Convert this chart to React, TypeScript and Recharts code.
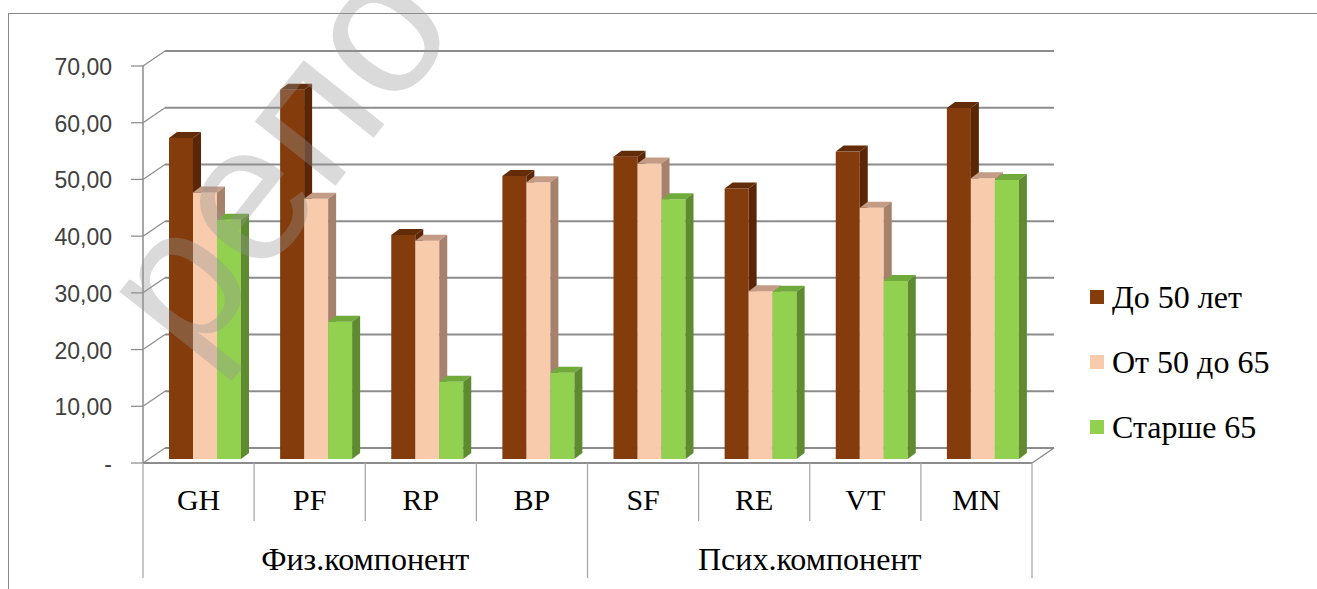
import { BarChart, Bar, XAxis, YAxis, CartesianGrid, Legend } from "recharts";

const categories = ["GH", "PF", "RP", "BP", "SF", "RE", "VT", "MN"];
const groups = [
  "Физ.компонент",
  "Физ.компонент",
  "Физ.компонент",
  "Физ.компонент",
  "Псих.компонент",
  "Псих.компонент",
  "Псих.компонент",
  "Псих.компонент",
];
const under50 = [56.6, 65.1, 39.5, 49.9, 53.3, 47.7, 54.2, 61.9];
const from50to65 = [47.0, 45.9, 38.5, 48.8, 52.1, 29.6, 44.3, 49.5];
const over65 = [42.2, 24.2, 13.6, 15.2, 45.8, 29.5, 31.4, 49.2];
const seriesNames = ["До 50 лет", "От 50 до 65", "Старше 65"];
const yTicks = [0, 10, 20, 30, 40, 50, 60, 70];

const data = categories.map((code, i) => ({
  code,
  a: under50[i],
  b: from50to65[i],
  c: over65[i],
}));

const W = 1317;
const H = 589;
// plot area = the plane the bars stand on
const PLOT_LEFT = 149;
const PLOT_RIGHT = 1038;
const PLOT_TOP = 62;
const PLOT_BOTTOM = 459;
const X_AXIS_H = 30;
const BAND = (PLOT_RIGHT - PLOT_LEFT) / categories.length;

// 3D offsets of the front edge and back wall relative to the bar plane
const FRONT = { dx: -6, dy: 4 };
const BACK = { dx: 16, dy: -11 };
const BAR_DEPTH = { dx: 8, dy: 6 };

const GRID = "#8c8c8c";
const SEP = "#a6a6a6";
const SERIF = "Liberation Serif, DejaVu Serif, Noto Serif, serif";
const SANS = "Liberation Sans, Arial, sans-serif";

const COLORS = [
  { front: "#843C0C", top: "#632c08", side: "#5a2606" },
  { front: "#F8CBAD", top: "#c49c86", side: "#a6826c" },
  { front: "#92D050", top: "#70aa3a", side: "#5e8a30" },
];

function makeBarShape(c: { front: string; top: string; side: string }) {
  return (props: any) => {
    const { x, y, width, height } = props;
    if (!height || height <= 0) return <g />;
    const { dx, dy } = BAR_DEPTH;
    const r = x + width;
    const b = y + height;
    return (
      <g>
        <rect x={x} y={y} width={width} height={height} fill={c.front} />
        <polygon
          points={`${x},${y} ${x + dx},${y - dy} ${r + dx},${y - dy} ${r},${y}`}
          fill={c.top}
        />
        <polygon
          points={`${r},${y} ${r + dx},${y - dy} ${r + dx},${b - dy} ${r},${b}`}
          fill={c.side}
        />
      </g>
    );
  };
}

// each value gridline: outer tick, side-wall diagonal, back-wall line
function gridLine(props: any) {
  const { x1, x2, y1, index } = props;
  const fy = y1 + FRONT.dy;
  const fx1 = x1 + FRONT.dx;
  const fx2 = x2 + FRONT.dx;
  const by = y1 + BACK.dy;
  const bx1 = x1 + BACK.dx;
  const bx2 = x2 + BACK.dx;
  const isFloor = Math.abs(y1 - PLOT_BOTTOM) < 0.5;
  return (
    <g key={`grid-${index}`}>
      <line x1={fx1 - 12} y1={fy} x2={fx1} y2={fy} stroke={GRID} strokeWidth={1.25} />
      <line x1={fx1} y1={fy} x2={bx1} y2={by} stroke={GRID} strokeWidth={1.25} />
      <line x1={bx1} y1={by} x2={bx2} y2={by} stroke={GRID} strokeWidth={2} />
      {isFloor && (
        <g>
          <line x1={fx1} y1={fy} x2={fx2} y2={fy} stroke={GRID} strokeWidth={2} />
          <line x1={fx2} y1={fy} x2={bx2} y2={by} stroke={GRID} strokeWidth={1.5} />
          <line
            x1={fx1}
            y1={fy}
            x2={fx1}
            y2={fy - (PLOT_BOTTOM - PLOT_TOP)}
            stroke={GRID}
            strokeWidth={1.5}
          />
        </g>
      )}
    </g>
  );
}

function ValueTick(props: any) {
  const { y, payload } = props;
  const v = Number(payload.value);
  const label = v === 0 ? "-" : v.toFixed(2).replace(".", ",");
  return (
    <text
      x={112}
      y={y + FRONT.dy + 1}
      dy="0.35em"
      textAnchor="end"
      fontFamily={SANS}
      fontSize={23}
      fill="#404040"
    >
      {label}
    </text>
  );
}

function CategoryTick(props: any) {
  const { x, payload } = props;
  const i: number = props.index ?? payload.index;
  const cx = x + FRONT.dx;
  const floorY = PLOT_BOTTOM + FRONT.dy;
  const left = cx - BAND / 2;
  const right = cx + BAND / 2;
  const startsGroup = i === 0 || groups[i] !== groups[i - 1];
  const isLast = i === categories.length - 1;

  let groupLabel = null;
  if (startsGroup) {
    let n = 0;
    while (groups[i + n] === groups[i]) n++;
    groupLabel = (
      <text
        x={left + (n * BAND) / 2}
        y={floorY + 107}
        textAnchor="middle"
        style={{ fontFamily: SERIF }}
        fontSize={32}
        fill="#000"
      >
        {groups[i]}
      </text>
    );
  }

  return (
    <g>
      <text
        x={cx}
        y={floorY + 47}
        textAnchor="middle"
        style={{ fontFamily: SERIF }}
        fontSize={30}
        fill="#000"
      >
        {payload.value}
      </text>
      <line
        x1={left}
        y1={floorY}
        x2={left}
        y2={floorY + (startsGroup ? 115 : 58)}
        stroke={SEP}
        strokeWidth={1.25}
      />
      {isLast && (
        <line x1={right} y1={floorY} x2={right} y2={floorY + 115} stroke={SEP} strokeWidth={1.25} />
      )}
      {groupLabel}
    </g>
  );
}

function LegendBox(props: any) {
  const items = props.payload || [];
  return (
    <div>
      {items.map((p: any) => (
        <div
          key={p.value}
          style={{ display: "flex", alignItems: "center", height: 65 }}
        >
          <span
            style={{
              display: "inline-block",
              width: 14,
              height: 14,
              background: p.color,
              marginRight: 8,
            }}
          />
          <span style={{ fontFamily: SERIF, fontSize: 32, color: "#000", lineHeight: 1 }}>
            {p.value}
          </span>
        </div>
      ))}
    </div>
  );
}

export default function App() {
  return (
    <div style={{ position: "relative", width: W, height: H, overflow: "hidden", background: "#fff" }}>
      <style>{"body{margin:0}"}</style>
      <div
        style={{
          position: "absolute",
          left: 8,
          top: 13,
          width: W - 8,
          height: H - 13,
          borderLeft: "1px solid #878787",
          borderTop: "1px solid #878787",
          boxSizing: "border-box",
        }}
      />
      <div style={{ position: "absolute", left: 0, top: 0 }}>
        <BarChart
          width={W}
          height={H}
          data={data}
          margin={{ top: PLOT_TOP, right: W - PLOT_RIGHT, bottom: H - PLOT_BOTTOM - X_AXIS_H, left: 0 }}
          barGap={0}
          barSize={24}
        >
          <CartesianGrid horizontal={gridLine} vertical={false} />
          <XAxis
            dataKey="code"
            height={X_AXIS_H}
            axisLine={false}
            tickLine={false}
            interval={0}
            tick={CategoryTick}
          />
          <YAxis
            type="number"
            width={PLOT_LEFT}
            domain={[0, 70]}
            ticks={yTicks}
            axisLine={false}
            tickLine={false}
            tick={ValueTick}
          />
          <Legend
            layout="horizontal"
            verticalAlign="middle"
            align="center"
            content={LegendBox}
            wrapperStyle={{ left: 1090, top: 264, width: 225 }}
          />
          <Bar dataKey="a" name={seriesNames[0]} fill={COLORS[0].front} shape={makeBarShape(COLORS[0])} isAnimationActive={false} />
          <Bar dataKey="b" name={seriesNames[1]} fill={COLORS[1].front} shape={makeBarShape(COLORS[1])} isAnimationActive={false} />
          <Bar dataKey="c" name={seriesNames[2]} fill={COLORS[2].front} shape={makeBarShape(COLORS[2])} isAnimationActive={false} />
        </BarChart>
      </div>
      {/* watermark */}
      <svg
        width={W}
        height={H}
        style={{ position: "absolute", left: 0, top: 0, pointerEvents: "none" }}
      >
        <text
          x={192}
          y={366}
          transform="rotate(-51.5 192 366)"
          fontFamily={SANS}
          fontSize={195}
          fill="#969696"
          fillOpacity={0.35}
        >
          репо
        </text>
      </svg>
    </div>
  );
}
